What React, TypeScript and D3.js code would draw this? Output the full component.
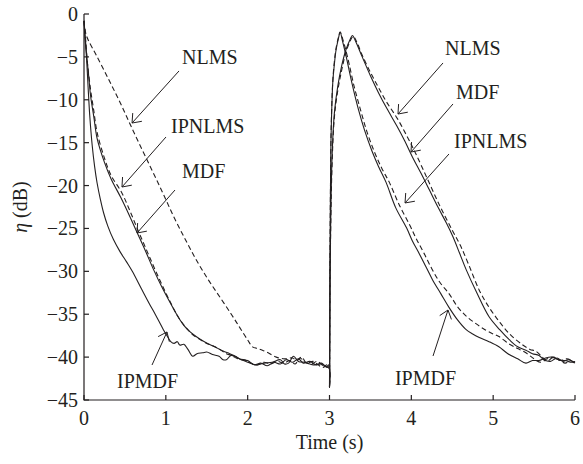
import React from "react";
import * as d3 from "d3";

type Pt = [number, number];

// Time (s) vs eta (dB)
const nlms: Pt[] = [
  [0, -0.8], [0.02, -2.2], [0.05, -3], [0.15, -4.8], [0.3, -7.6], [0.45, -10.5], [0.6, -13.6], [0.77, -17],
  [0.95, -20.6], [1.1, -23.7], [1.25, -26.5], [1.38, -28.8], [1.52, -31], [1.66, -33], [1.8, -35], [1.9, -36.5],
  [2.0, -38], [2.06, -38.8], [2.12, -39], [2.18, -39.2], [2.25, -39.5], [2.35, -40], [2.45, -40.2], [2.55, -40.1],
  [2.6, -40.4], [2.66, -40.0], [2.72, -40.7], [2.8, -40.5], [2.86, -40.9], [2.92, -41.2], [2.97, -40.9], [2.995, -41.2],
  [3.0, -43.5], [3.008, -30], [3.03, -18], [3.06, -12], [3.1, -9], [3.15, -6.5], [3.2, -4.5], [3.25, -3.2], [3.29, -2.6],
  [3.33, -3.2], [3.4, -4.8], [3.5, -6.8], [3.6, -8.6], [3.7, -10.3], [3.83, -12.2], [3.95, -14.3], [4.05, -16.2],
  [4.2, -19.3], [4.35, -22.4], [4.5, -25.2], [4.6, -27], [4.7, -29.2], [4.83, -32.2], [4.95, -34.2], [5.07, -35.8],
  [5.2, -37.3], [5.35, -38.5], [5.45, -39.1], [5.52, -39.3], [5.6, -40], [5.66, -40.5], [5.72, -40.1], [5.8, -40.3],
  [5.88, -40.7], [5.95, -40.4], [6, -40.8],
];

const ipnlms: Pt[] = [
  [0, -0.8], [0.02, -3], [0.04, -5.5], [0.08, -8.8], [0.12, -11.3], [0.16, -13.8], [0.25, -16.8], [0.33, -18.8],
  [0.46, -20.8], [0.55, -22.7], [0.65, -25], [0.75, -27.2], [0.85, -29.4], [0.95, -31.5], [1.05, -33.5], [1.15, -35.3],
  [1.25, -36.6], [1.33, -37.4], [1.41, -37.9], [1.5, -38.4], [1.58, -38.7], [1.66, -39.1], [1.74, -39.6], [1.8, -39.8],
  [1.88, -40.2], [1.96, -40.3], [2.04, -40.7], [2.12, -40.9], [2.2, -40.6], [2.28, -40.8], [2.36, -40.5], [2.44, -40.7],
  [2.52, -40.4], [2.58, -40.8], [2.64, -40.1], [2.7, -40.6], [2.78, -40.8], [2.85, -40.5], [2.92, -41.0], [2.995, -41.3],
  [3.0, -43.5], [3.005, -30], [3.015, -17], [3.02, -13.5], [3.04, -7.8], [3.06, -5.5], [3.08, -4], [3.11, -2.7], [3.13, -2.1],
  [3.17, -3.2], [3.22, -5], [3.3, -8.4], [3.38, -11.2], [3.46, -13.8], [3.55, -16.1], [3.64, -18], [3.73, -19.6],
  [3.85, -22.2], [3.98, -24.6], [4.06, -26.2], [4.15, -27.8], [4.25, -29.7], [4.35, -31.3], [4.46, -32.6], [4.57, -34.2],
  [4.68, -35.3], [4.79, -36.1], [4.9, -36.8], [5.0, -37.3], [5.07, -37.6], [5.2, -38.5], [5.3, -39.0], [5.4, -39.5],
  [5.5, -40.2], [5.58, -40.6], [5.66, -40.2], [5.74, -40.0], [5.82, -40.4], [5.9, -40.2], [6, -40.6],
];

const mdf: Pt[] = [
  [0, -0.8], [0.01, -2], [0.03, -4.5], [0.06, -7.5], [0.08, -9.5], [0.12, -12], [0.16, -14.5], [0.25, -17.3],
  [0.33, -19.2], [0.45, -21.4], [0.55, -23.4], [0.65, -25.5], [0.75, -27.6], [0.85, -29.8], [0.95, -31.8], [1.05, -33.6],
  [1.15, -35.3], [1.22, -36.3], [1.29, -37], [1.37, -37.6], [1.45, -38.1], [1.53, -38.5], [1.62, -38.9], [1.7, -39.3],
  [1.78, -39.6], [1.85, -39.9], [1.92, -40.3], [2.0, -40.4], [2.08, -40.9], [2.16, -40.7], [2.24, -41.0], [2.32, -40.6],
  [2.4, -40.8], [2.47, -40.3], [2.55, -40.6], [2.62, -40.2], [2.68, -40.7], [2.76, -40.5], [2.84, -40.9], [2.9, -40.7],
  [2.96, -41.1], [2.995, -40.9],
  [3.0, -43.5], [3.008, -30], [3.03, -17], [3.06, -11.5], [3.1, -8.5], [3.15, -6], [3.2, -4.2], [3.25, -3], [3.28, -2.5],
  [3.32, -3.2], [3.4, -5], [3.5, -7.2], [3.6, -9.2], [3.7, -11], [3.82, -13], [3.92, -14.8], [4.01, -16.6], [4.12, -18.6],
  [4.22, -20.5], [4.33, -22.6], [4.43, -24.4], [4.51, -26], [4.59, -27.9], [4.67, -29.8], [4.8, -32.5], [4.95, -35.3],
  [5.08, -36.8], [5.2, -38], [5.3, -38.8], [5.4, -39.2], [5.48, -39.6], [5.56, -39.8], [5.62, -40.3], [5.7, -40.5],
  [5.78, -40.1], [5.85, -40.5], [5.92, -40.3], [6, -40.7],
];

const ipmdf: Pt[] = [
  [0, -0.8], [0.01, -2.5], [0.03, -5], [0.05, -8.5], [0.07, -11.8], [0.1, -15.3], [0.13, -17.8], [0.16, -19.7], [0.2, -21.6],
  [0.24, -23.2], [0.29, -24.7], [0.36, -26.3], [0.44, -27.7], [0.52, -28.9], [0.59, -30], [0.7, -32], [0.8, -33.8], [0.87, -35],
  [0.97, -36.8], [1.02, -37.6], [1.06, -38.2], [1.1, -38.4], [1.14, -38.2], [1.17, -38.6], [1.22, -38.5], [1.27, -39.1],
  [1.33, -39.9], [1.38, -39.6], [1.45, -39.5], [1.5, -39.4], [1.57, -39.7], [1.65, -39.9], [1.7, -40.3], [1.74, -40.3],
  [1.8, -39.8], [1.9, -40.2], [2.0, -40.6], [2.1, -40.9], [2.2, -40.7], [2.3, -40.6], [2.4, -40.3], [2.45, -40.8],
  [2.5, -40.7], [2.56, -39.9], [2.62, -40.5], [2.7, -40.6], [2.8, -40.9], [2.9, -40.8], [2.97, -41.2], [2.995, -41],
  [3.0, -43.5], [3.005, -30], [3.015, -17], [3.02, -13.9], [3.04, -8], [3.06, -5.8], [3.08, -4.2], [3.11, -2.8], [3.13, -2.1],
  [3.16, -3.2], [3.2, -4.8], [3.28, -8.3], [3.35, -11], [3.43, -13.6], [3.52, -16], [3.6, -17.8], [3.69, -19.6],
  [3.81, -22.6], [3.94, -24.9], [4.01, -26.4], [4.1, -28], [4.18, -29.5], [4.26, -31], [4.36, -32.6], [4.46, -34.2],
  [4.56, -35.6], [4.67, -36.8], [4.75, -37.3], [4.83, -37.7], [4.95, -38.2], [5.07, -38.8], [5.18, -39.6], [5.3, -40.2],
  [5.4, -40.7], [5.48, -40.4], [5.56, -40.4], [5.64, -40.1], [5.72, -40.0], [5.8, -40.3], [5.88, -40.4], [5.96, -40.6], [6, -40.5],
];

const seriesList = [
  { name: "NLMS", data: nlms, dashed: true },
  { name: "IPNLMS", data: ipnlms, dashed: true },
  { name: "MDF", data: mdf, dashed: false },
  { name: "IPMDF", data: ipmdf, dashed: false },
];

const xTicks = [0, 1, 2, 3, 4, 5, 6];
const yTicks = [0, -5, -10, -15, -20, -25, -30, -35, -40, -45];

// annotations: label anchor (t, dB), arrow start (t, dB), arrow tip (t, dB)
const annotations = [
  { label: "NLMS", text: [1.198, -5.83], from: [1.161, -6.64], to: [0.587, -12.71] },
  { label: "IPNLMS", text: [1.063, -13.87], from: [1.002, -14.34], to: [0.464, -20.17] },
  { label: "MDF", text: [1.198, -19.12], from: [1.112, -20.52], to: [0.648, -25.53] },
  { label: "IPMDF", text: [0.403, -43.6], from: [0.831, -40.92], to: [1.014, -37.07] },
  { label: "NLMS", text: [4.412, -4.78], from: [4.387, -5.71], to: [3.837, -11.66] },
  { label: "MDF", text: [4.546, -9.91], from: [4.509, -10.49], to: [3.996, -16.09] },
  { label: "IPNLMS", text: [4.522, -15.62], from: [4.46, -16.32], to: [3.923, -22.03] },
  { label: "IPMDF", text: [3.8, -43.25], from: [4.265, -39.87], to: [4.448, -34.51] },
];

const W = 583;
const H = 464;
const INK = "#231f20";
const FONT = "'Liberation Serif', 'DejaVu Serif', serif";

export default function App() {
  const x = d3.scaleLinear().domain([0, 6]).range([84, 575]);
  const y = d3.scaleLinear().domain([-45, 0]).range([400, 14]);
  const line = d3
    .line<Pt>()
    .x((d) => x(d[0]))
    .y((d) => y(d[1]))
    .curve(d3.curveCatmullRom.alpha(0.5));

  const arrowHead = (fx: number, fy: number, tx: number, ty: number) => {
    const ang = Math.atan2(fy - ty, fx - tx);
    const len = 10;
    const spread = (38 * Math.PI) / 180;
    const a1 = ang + spread;
    const a2 = ang - spread;
    return `M${tx + len * Math.cos(a1)},${ty + len * Math.sin(a1)}L${tx},${ty}L${tx + len * Math.cos(a2)},${ty + len * Math.sin(a2)}`;
  };

  const [x0, x1] = x.range();
  const [y0, y1] = y.range();

  return (
    <svg
      width={W}
      height={H}
      style={{ position: "absolute", left: 0, top: 0, background: "#fff" }}
      fontFamily={FONT}
    >
      <rect width={W} height={H} fill="#fff" />
      {/* curves */}
      {seriesList.map((s) => (
        <path
          key={s.name}
          d={line(s.data) || ""}
          fill="none"
          stroke={INK}
          strokeWidth={1.1}
          strokeDasharray={s.dashed ? "5,3" : undefined}
          strokeLinejoin="round"
        />
      ))}
      {/* axes */}
      <path d={`M${x0},${y1}V${y0}H${x1}`} fill="none" stroke={INK} strokeWidth={1.2} />
      {yTicks.map((t) => (
        <g key={"y" + t}>
          <line x1={x0} x2={x0 + 5} y1={y(t)} y2={y(t)} stroke={INK} strokeWidth={1.2} />
          <text x={x0 - 6} y={y(t)} dy="0.35em" textAnchor="end" fontSize={20} fill={INK}>
            {t === 0 ? "0" : "\u2212" + Math.abs(t)}
          </text>
        </g>
      ))}
      {xTicks.map((t) => (
        <g key={"x" + t}>
          <line x1={x(t)} x2={x(t)} y1={y0} y2={y0 - 5} stroke={INK} strokeWidth={1.2} />
          <text x={x(t)} y={y0 + 25} textAnchor="middle" fontSize={20} fill={INK}>
            {t}
          </text>
        </g>
      ))}
      <text x={(x0 + x1) / 2} y={449} textAnchor="middle" fontSize={20} fill={INK}>
        Time (s)
      </text>
      <text transform={`translate(27,${(y0 + y1) / 2}) rotate(-90)`} textAnchor="middle" fontSize={20} fill={INK}>
        <tspan fontStyle="italic">η</tspan> (dB)
      </text>
      {/* annotations */}
      {annotations.map((a, i) => {
        const fx = x(a.from[0]);
        const fy = y(a.from[1]);
        const tx = x(a.to[0]);
        const ty = y(a.to[1]);
        return (
          <g key={"a" + i}>
            <text x={x(a.text[0])} y={y(a.text[1])} fontSize={20} fill={INK}>
              {a.label}
            </text>
            <line x1={fx} y1={fy} x2={tx} y2={ty} stroke={INK} strokeWidth={1} />
            <path d={arrowHead(fx, fy, tx, ty)} fill="none" stroke={INK} strokeWidth={1} />
          </g>
        );
      })}
    </svg>
  );
}
